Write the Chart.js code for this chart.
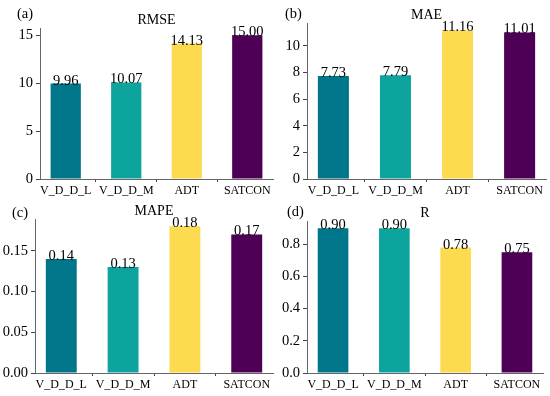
<!DOCTYPE html>
<html>
<head>
<meta charset="utf-8">
<script src="https://cdn.jsdelivr.net/npm/chart.js@4.4.1/dist/chart.umd.min.js"></script>
<style>
  body { margin: 0; background: #fff; }
  .panel { position: absolute; width: 275px; height: 198px; }
</style>
</head>
<body>
<div class="panel" style="left:0;top:0"><canvas id="c0"></canvas></div>
<div class="panel" style="left:275px;top:0"><canvas id="c1"></canvas></div>
<div class="panel" style="left:0;top:198px"><canvas id="c2"></canvas></div>
<div class="panel" style="left:275px;top:198px"><canvas id="c3"></canvas></div>
<script>
const categories = ['V_D_D_L', 'V_D_D_M', 'ADT', 'SATCON'];
const rmse = [9.96, 10.07, 14.13, 15.00];
const mae = [7.73, 7.79, 11.16, 11.01];
const mape = [0.14, 0.13, 0.18, 0.17];
const rValues = [0.90, 0.90, 0.78, 0.75];
const barColors = ['#00768a', '#0ca49c', '#fddb50', '#4e0056'];

const SERIF = '"Liberation Serif", "Times New Roman", serif';

// one entry per subplot: data + axis range + where the plot box sits in its canvas
const panels = [
  { id: 'c0', tag: '(a)', title: 'RMSE', values: rmse, yMax: 15.75, step: 5, dec: 0,
    left: 40, right: 273, top: 28, bottom: 179, tagX: 17, tagY: 18 },
  { id: 'c1', tag: '(b)', title: 'MAE', values: mae, yMax: 11.72, step: 2, dec: 0,
    left: 32, right: 271, top: 23, bottom: 179, tagX: 10, tagY: 18 },
  { id: 'c2', tag: '(c)', title: 'MAPE', values: mape, yMax: 0.189, step: 0.05, dec: 2,
    left: 35, right: 273, top: 21, bottom: 175, tagX: 12, tagY: 19 },
  { id: 'c3', tag: '(d)', title: 'R', values: rValues, yMax: 0.945, step: 0.2, dec: 1,
    left: 32, right: 268, top: 23, bottom: 175, tagX: 12, tagY: 18 },
];

const textPlugin = {
  id: 'texts',
  afterDatasetsDraw(chart, args, opts) {
    const { ctx, chartArea } = chart;
    const p = opts.panel;
    ctx.save();
    ctx.fillStyle = '#000';
    ctx.font = '14.5px ' + SERIF;
    ctx.textAlign = 'center';
    ctx.textBaseline = 'alphabetic';
    chart.getDatasetMeta(0).data.forEach((bar, i) => {
      ctx.fillText(p.values[i].toFixed(2), bar.x, bar.y + 1);
    });
    ctx.font = '14px ' + SERIF;
    ctx.fillText(p.title, (chartArea.left + chartArea.right) / 2, chartArea.top - 4);
    ctx.font = '14.5px ' + SERIF;
    ctx.textAlign = 'left';
    ctx.fillText(p.tag, p.tagX, p.tagY);
    ctx.restore();
  },
};

panels.forEach((p) => {
  new Chart(document.getElementById(p.id), {
    type: 'bar',
    data: {
      datasets: [{
        data: p.values.map((v, i) => ({ x: i, y: v })),
        backgroundColor: barColors,
        categoryPercentage: 1,
        barPercentage: 0.5,
      }],
    },
    plugins: [textPlugin],
    options: {
      responsive: true,
      maintainAspectRatio: false,
      animation: false,
      layout: { padding: { left: 0, top: p.top, right: 275 - p.right, bottom: 0 } },
      plugins: {
        legend: { display: false },
        tooltip: { enabled: false },
        texts: { panel: p },
      },
      scales: {
        x: {
          type: 'linear',
          offset: false,
          min: -0.425,
          max: 3.425,
          afterBuildTicks: (axis) => { axis.ticks = categories.map((c, i) => ({ value: i })); },
          afterFit: (axis) => { axis.height = 198 - p.bottom; },
          ticks: {
            autoSkip: false,
            maxRotation: 0,
            padding: 2,
            color: '#000',
            font: { family: SERIF, size: 12 },
            callback: (v) => categories[v],
          },
          grid: { drawOnChartArea: false, drawTicks: true, tickLength: 3, color: '#444' },
          border: { display: true, color: '#666', width: 1 },
        },
        y: {
          min: 0,
          max: p.yMax,
          afterFit: (axis) => { axis.width = p.left; },
          ticks: {
            stepSize: p.step,
            includeBounds: false,
            padding: 3,
            color: '#000',
            font: { family: SERIF, size: 14.5 },
            callback: (v) => v.toFixed(p.dec),
          },
          grid: { drawOnChartArea: false, drawTicks: true, tickLength: 4, color: '#444' },
          border: { display: true, color: '#666', width: 1 },
        },
      },
    },
  });
});
</script>
</body>
</html>
